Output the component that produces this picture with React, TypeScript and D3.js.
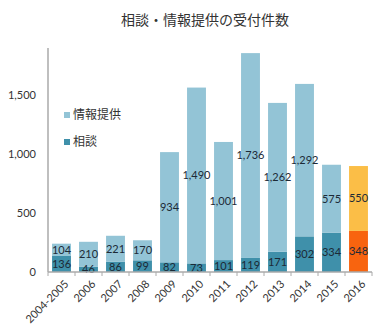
import React from 'react';
import * as d3 from 'd3';

const years = ['2004-2005', '2006', '2007', '2008', '2009', '2010', '2011', '2012', '2013', '2014', '2015', '2016'];
const consult = [136, 46, 86, 99, 82, 73, 101, 119, 171, 302, 334, 348];
const info = [104, 210, 221, 170, 934, 1490, 1001, 1736, 1262, 1292, 575, 550];
const yTicks = [0, 500, 1000, 1500];

const w = 390;
const h = 332;
const left = 48;
const right = 372;
const bottom = 272;
const top = 48;

const infoColor = '#93c4d6';
const consultColor = '#3f90aa';
const infoHi = '#fbbe47';
const consultHi = '#f8640f';
const numFont = 'Lato, "Noto Sans", sans-serif';
const jpFont = '"Noto Sans CJK JP", sans-serif';

const App = () => {
  const x = d3.scaleBand().domain(years).range([left, right]).paddingInner(0.3).paddingOuter(0.15);
  const y = d3.scaleLinear().domain([0, 1500]).range([bottom, 95]);
  const step = x.step();
  const last = years[years.length - 1];

  return (
    <svg width={w} height={h} style={{ position: 'absolute', left: 0, top: 0 }}>
      <rect width={w} height={h} fill="#fff" />
      <text x={205} y={25} textAnchor="middle" fontFamily={jpFont} fontSize={14} fill="#333">
        相談・情報提供の受付件数
      </text>

      {years.map((yr, i) => {
        const bx = x(yr) as number;
        const bw = x.bandwidth();
        const hi = yr === last;
        const c0 = y(0);
        const c1 = y(consult[i]);
        const i1 = y(consult[i] + info[i]);
        return (
          <g key={yr}>
            <rect x={bx} y={c1} width={bw} height={c0 - c1} fill={hi ? consultHi : consultColor} />
            <rect x={bx} y={i1} width={bw} height={c1 - i1} fill={hi ? infoHi : infoColor} />
            <text x={bx + bw / 2} y={(c0 + c1) / 2} dy="0.35em" textAnchor="middle"
              fontFamily={numFont} fontSize={11} fill="#1c2a36">
              {d3.format(',')(consult[i])}
            </text>
            <text x={bx + bw / 2} y={(c1 + i1) / 2} dy="0.35em" textAnchor="middle"
              fontFamily={numFont} fontSize={11} fill="#1c2a36">
              {d3.format(',')(info[i])}
            </text>
          </g>
        );
      })}

      {/* axes */}
      <line x1={left} x2={left} y1={top} y2={bottom} stroke="#aaa" strokeWidth={1.5} />
      <line x1={left} x2={right} y1={bottom} y2={bottom} stroke="#aaa" strokeWidth={1.5} />
      {years.map((yr, i) => (
        <line key={'t' + yr} x1={left + step * (i + 1)} x2={left + step * (i + 1)} y1={bottom} y2={bottom + 4}
          stroke="#aaa" />
      ))}
      <line x1={left} x2={left} y1={bottom} y2={bottom + 4} stroke="#aaa" />

      {yTicks.map((t) => (
        <text key={t} x={36} y={y(t)} dy="0.35em" textAnchor="end" fontFamily={numFont} fontSize={11} fill="#333">
          {d3.format(',')(t)}
        </text>
      ))}

      {years.map((yr) => {
        const cx = (x(yr) as number) + x.bandwidth() / 2 + 5;
        return (
          <text key={'l' + yr} transform={`translate(${cx},${bottom + 10}) rotate(-45)`} textAnchor="end"
            dy="0.35em" fontFamily={numFont} fontSize={11} fill="#333">
            {yr}
          </text>
        );
      })}

      {/* legend */}
      <rect x={64} y={112} width={6} height={6} fill={infoColor} />
      <text x={73} y={115} dy="0.35em" fontFamily={jpFont} fontSize={12} fill="#333">情報提供</text>
      <rect x={64} y={139} width={6} height={6} fill={consultColor} />
      <text x={73} y={142} dy="0.35em" fontFamily={jpFont} fontSize={12} fill="#333">相談</text>
    </svg>
  );
};

export default App;
